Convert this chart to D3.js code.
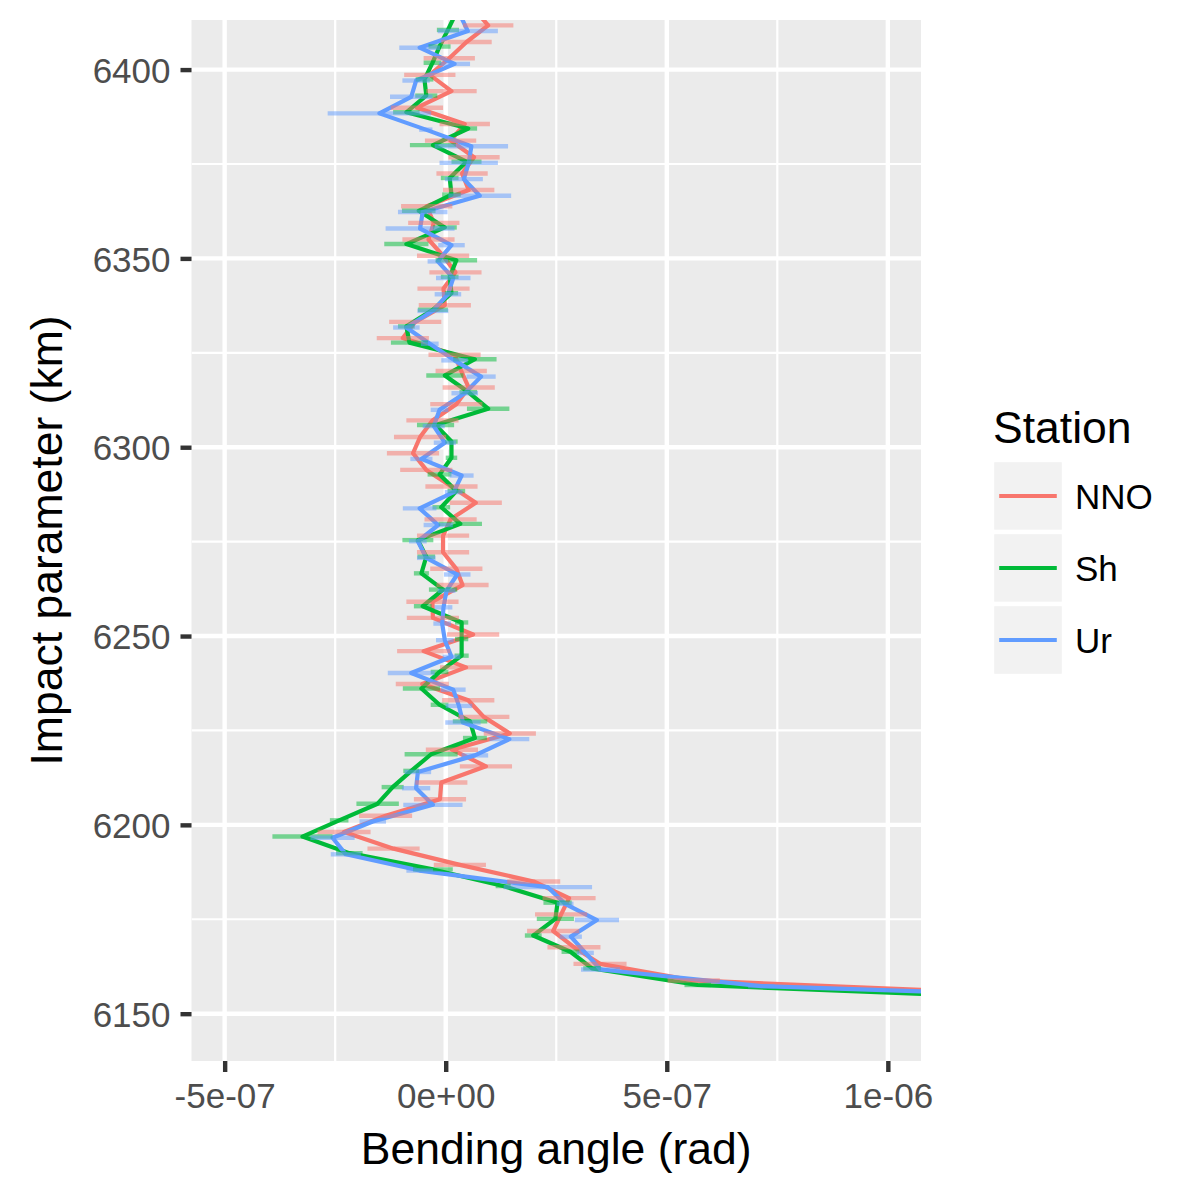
<!DOCTYPE html>
<html>
<head>
<meta charset="utf-8">
<script src="https://cdn.jsdelivr.net/npm/d3@7"></script>
<style>
  body { margin: 0; background: #fff; }
  text { font-family: "Liberation Sans", Arial, Helvetica, sans-serif; }
</style>
</head>
<body>
<div id="graph"></div>
<script>
//stations and their colours (ggplot default hues)
let stations = ["NNO","Sh","Ur"];
let colorRange = ["#F8766D","#00BA38","#619CFF"];

//bending angles are stored in units of 1e-7 rad
let angleUnit = 1e-7;

//NNO
let nnoImpact = [
  6416.1, 6411.7, 6407.3, 6403.0, 6398.6, 6394.3, 6389.9, 6385.6, 6381.2, 6376.8,
  6372.5, 6368.1, 6363.8, 6359.4, 6355.0, 6350.7, 6346.3, 6342.0, 6337.6, 6333.2,
  6328.9, 6324.5, 6320.2, 6315.8, 6311.4, 6307.1, 6302.7, 6298.4, 6294.0, 6289.6,
  6285.3, 6280.9, 6276.6, 6272.2, 6267.8, 6263.5, 6259.1, 6254.8, 6250.4, 6246.0,
  6241.7, 6237.3, 6233.0, 6228.6, 6224.2, 6219.9, 6215.5, 6211.2, 6206.8, 6202.4,
  6198.1, 6193.7, 6189.4, 6185.0, 6180.6, 6176.3, 6171.9, 6167.6, 6163.2, 6158.8,
  6154.5];
let nnoAngle = [
  0.64, 0.96, 0.47, 0.08, -0.36, 0.13, -0.65, 0.43, 0.11, 0.64,
  0.37, 0.52, -0.43, -0.27, -0.39, -0.06, 0.22, -0.05, -0.02, -0.69,
  -0.97, 0.20, 0.35, 0.52, 0.24, -0.30, -0.58, -0.74, -0.44, 0.13,
  0.68, 0.11, -0.06, -0.06, 0.24, 0.38, -0.30, -0.29, 0.62, -0.50,
  0.46, -0.53, 0.51, 0.86, 1.45, 0.14, 0.91, -0.10, -0.13, -1.36,
  -2.30, -1.18, 0.32, 1.99, 2.79, 2.61, 2.43, 2.90, 3.49, 5.61,
  14.6];
let nnoErr = [
  0.58, 0.57, 0.57, 0.58, 0.58, 0.57, 0.59, 0.57, 0.58, 0.58,
  0.58, 0.58, 0.58, 0.58, 0.59, 0.59, 0.59, 0.59, 0.59, 0.59,
  0.59, 0.59, 0.58, 0.59, 0.59, 0.59, 0.59, 0.59, 0.59, 0.59,
  0.59, 0.59, 0.59, 0.59, 0.59, 0.59, 0.59, 0.59, 0.59, 0.60,
  0.59, 0.60, 0.59, 0.58, 0.59, 0.59, 0.59, 0.59, 0.59, 0.60,
  0.60, 0.59, 0.59, 0.60, 0.60, 0.59, 0.59, 0.60, 0.60, 0.59,
  0.60];

//Sh
let shImpact = [
  6414.9, 6410.5, 6406.1, 6401.8, 6397.4, 6393.1, 6388.7, 6384.4, 6380.0, 6375.6,
  6371.3, 6366.9, 6362.6, 6358.2, 6353.8, 6349.5, 6345.1, 6340.8, 6336.4, 6332.0,
  6327.7, 6323.3, 6319.0, 6314.6, 6310.2, 6305.9, 6301.5, 6297.2, 6292.8, 6288.4,
  6284.1, 6279.7, 6275.4, 6271.0, 6266.6, 6262.3, 6257.9, 6253.6, 6249.2, 6244.8,
  6240.5, 6236.1, 6231.8, 6227.4, 6223.0, 6218.7, 6214.3, 6210.0, 6205.6, 6201.2,
  6196.9, 6192.5, 6188.2, 6183.8, 6179.4, 6175.1, 6170.7, 6166.4, 6162.0, 6157.6,
  6153.3];
let shAngle = [
  0.23, 0.05, -0.14, -0.30, -0.48, -0.44, -0.89, 0.51, -0.29, 0.47,
  0.09, 0.13, -0.61, -0.02, -0.89, 0.24, 0.09, 0.13, -0.29, -0.89,
  -0.82, 0.66, -0.02, 0.51, 0.96, -0.23, 0.13, 0.13, -0.14, 0.24,
  -0.10, 0.33, -0.63, -0.44, -0.55, -0.06, -0.52, 0.36, 0.36, 0.36,
  -0.14, -0.55, -0.14, 0.55, 0.66, -0.33, -0.78, -1.20, -1.54, -2.41,
  -3.24, -2.18, -0.29, 1.30, 2.53, 2.48, 1.98, 2.82, 3.31, 5.70,
  14.8];
let shErr = [
  0.25, 0.25, 0.25, 0.20, 0.20, 0.25, 0.30, 0.20, 0.52, 0.34,
  0.20, 0.21, 0.38, 0.27, 0.50, 0.47, 0.20, 0.15, 0.34, 0.19,
  0.42, 0.49, 0.42, 0.20, 0.48, 0.42, 0.14, 0.13, 0.27, 0.20,
  0.20, 0.49, 0.35, 0.20, 0.17, 0.32, 0.20, 0.15, 0.15, 0.16,
  0.20, 0.42, 0.20, 0.39, 0.27, 0.60, 0.18, 0.25, 0.48, 0.21,
  0.68, 0.30, 0.45, 0.17, 0.32, 0.42, 0.19, 0.20, 0.20, 0.30,
  0.30];

//Ur
let urImpact = [
  6414.6, 6410.2, 6405.8, 6401.5, 6397.1, 6392.8, 6388.4, 6384.1, 6379.7, 6375.3,
  6371.0, 6366.6, 6362.3, 6357.9, 6353.5, 6349.2, 6344.8, 6340.5, 6336.1, 6331.7,
  6327.4, 6323.0, 6318.7, 6314.3, 6309.9, 6305.6, 6301.2, 6296.9, 6292.5, 6288.1,
  6283.8, 6279.4, 6275.1, 6270.7, 6266.3, 6262.0, 6257.6, 6253.3, 6248.9, 6244.5,
  6240.2, 6235.8, 6231.5, 6227.1, 6222.7, 6218.4, 6214.0, 6209.7, 6205.3, 6200.9,
  6196.6, 6192.2, 6187.9, 6183.5, 6179.1, 6174.8, 6170.4, 6166.1, 6161.7, 6157.3,
  6153.0];
let urAngle = [
  0.32, 0.50, -0.59, 0.20, -0.67, -0.78, -1.50, -0.45, 0.58, 0.52,
  0.41, 0.77, -0.52, -0.58, 0.13, -0.18, 0.17, 0.05, -0.29, -0.89,
  -0.36, 0.20, 0.80, 0.43, -0.14, -0.27, -0.02, -0.55, 0.36, 0.18,
  -0.59, -0.17, -0.63, -0.44, 0.26, 0.02, -0.05, -0.08, -0.02, 0.13,
  -0.78, 0.17, 0.30, 0.39, 1.44, 0.66, -0.63, -0.67, -0.29, -1.65,
  -2.56, -2.26, -0.59, 2.31, 2.70, 3.42, 2.83, 3.16, 3.50, 7.14,
  18.3];
let urErr = [
  0.40, 0.68, 0.46, 0.35, 0.31, 0.48, 1.17, 0.15, 0.83, 0.66,
  0.43, 0.71, 0.56, 0.78, 0.30, 0.23, 0.39, 0.30, 0.35, 0.30,
  0.20, 0.30, 0.33, 0.30, 0.20, 0.25, 0.25, 0.25, 0.27, 0.20,
  0.38, 0.33, 0.20, 0.21, 0.30, 0.20, 0.20, 0.20, 0.20, 0.20,
  0.53, 0.28, 0.30, 0.40, 0.45, 0.30, 0.30, 0.32, 0.67, 0.30,
  0.50, 0.34, 0.30, 1.00, 0.19, 0.50, 0.25, 0.19, 0.44, 0.30,
  0.30];

//axis ticks
let xTicks = [-5e-7, 0, 5e-7, 1e-6];
let xTickLabels = ["-5e-07","0e+00","5e-07","1e-06"];
let xMinor = [-2.5e-7, 2.5e-7, 7.5e-7];
let yTicks = [6150, 6200, 6250, 6300, 6350, 6400];
let yMinor = [6175, 6225, 6275, 6325, 6375];
let xLimits = [-5e-7, 1e-6];
let yLimits = [6150, 6400.6];

//build one table per station
function makeRows(impact, angle, err){
  return impact.map(function(b, i){
    return {impact: b, angle: angle[i]*angleUnit, err: err[i]*angleUnit};
  });
}
let series = [
  {name: "NNO", rows: makeRows(nnoImpact, nnoAngle, nnoErr)},
  {name: "Sh", rows: makeRows(shImpact, shAngle, shErr)},
  {name: "Ur", rows: makeRows(urImpact, urAngle, urErr)}
];

let color = d3.scaleOrdinal().domain(stations).range(colorRange);

//panel box
let w = 1200, h = 1200;
let pLeft = 191.5, pRight = 921, pTop = 20, pBottom = 1061;

//ggplot style 5% expansion
let xPad = (xLimits[1]-xLimits[0])*0.05;
let yPad = (yLimits[1]-yLimits[0])*0.05;
let x = d3.scaleLinear().domain([xLimits[0]-xPad, xLimits[1]+xPad]).range([pLeft, pRight]);
let y = d3.scaleLinear().domain([yLimits[0]-yPad, yLimits[1]+yPad]).range([pBottom, pTop]);

let svg = d3.select("#graph").append("svg")
              .attr("width", w)
              .attr("height", h);

svg.append("rect")
     .attr("width", w).attr("height", h)
     .attr("fill", "white");

svg.append("defs").append("clipPath").attr("id", "panelClip")
     .append("rect")
       .attr("x", pLeft).attr("y", pTop)
       .attr("width", pRight-pLeft).attr("height", pBottom-pTop);

//panel background
svg.append("rect")
     .attr("x", pLeft).attr("y", pTop)
     .attr("width", pRight-pLeft).attr("height", pBottom-pTop)
     .attr("fill", "#EBEBEB");

let grid = svg.append("g").attr("clip-path", "url(#panelClip)");

grid.selectAll("xminor").data(xMinor).enter()
      .append("line")
        .attr("x1", d => x(d)).attr("x2", d => x(d))
        .attr("y1", pTop).attr("y2", pBottom)
        .attr("stroke", "white").attr("stroke-width", 2.2);

grid.selectAll("yminor").data(yMinor).enter()
      .append("line")
        .attr("y1", d => y(d)).attr("y2", d => y(d))
        .attr("x1", pLeft).attr("x2", pRight)
        .attr("stroke", "white").attr("stroke-width", 2.2);

grid.selectAll("xmajor").data(xTicks).enter()
      .append("line")
        .attr("x1", d => x(d)).attr("x2", d => x(d))
        .attr("y1", pTop).attr("y2", pBottom)
        .attr("stroke", "white").attr("stroke-width", 4.4);

grid.selectAll("ymajor").data(yTicks).enter()
      .append("line")
        .attr("y1", d => y(d)).attr("y2", d => y(d))
        .attr("x1", pLeft).attr("x2", pRight)
        .attr("stroke", "white").attr("stroke-width", 4.4);

//data layers, clipped to the panel
let plot = svg.append("g").attr("clip-path", "url(#panelClip)");

let line = d3.line()
               .x(d => x(d.angle))
               .y(d => y(d.impact));

plot.selectAll("paths").data(series).enter()
      .append("path")
        .attr("d", d => line(d.rows))
        .attr("fill", "none")
        .attr("stroke", d => color(d.name))
        .attr("stroke-width", 4.2)
        .attr("stroke-linejoin", "round");

//horizontal error bars on top of the lines
series.forEach(function(s){
  plot.append("g").selectAll("line").data(s.rows).enter()
        .append("line")
          .attr("x1", d => x(d.angle - d.err))
          .attr("x2", d => x(d.angle + d.err))
          .attr("y1", d => y(d.impact))
          .attr("y2", d => y(d.impact))
          .attr("stroke", color(s.name))
          .attr("stroke-width", 4.4)
          .attr("opacity", 0.5);
});

//axes
let yAxis = svg.append("g")
                 .attr("transform", "translate(" + pLeft + ",0)")
                 .call(d3.axisLeft(y).tickValues(yTicks).tickSize(11).tickPadding(10).tickFormat(d3.format("d")));

let xAxis = svg.append("g")
                 .attr("transform", "translate(0," + pBottom + ")")
                 .call(d3.axisBottom(x).tickValues(xTicks).tickSize(11).tickPadding(11)
                         .tickFormat((d, i) => xTickLabels[i]));

[xAxis, yAxis].forEach(function(a){
  a.select(".domain").remove();
  a.selectAll(".tick line").attr("stroke", "#333333").attr("stroke-width", 4.4);
  a.selectAll(".tick text")
     .attr("fill", "#4D4D4D")
     .attr("font-size", 35)
     .style("font-family", "'Liberation Sans', Arial, sans-serif");
});
yAxis.selectAll(".tick text").attr("dy", "0.36em");

//axis titles
svg.append("text")
     .attr("x", (pLeft+pRight)/2)
     .attr("y", 1164)
     .attr("text-anchor", "middle")
     .attr("font-size", 44.5)
     .attr("fill", "black")
     .text("Bending angle (rad)");

svg.append("text")
     .attr("transform", "translate(62," + (pTop+pBottom)/2 + ") rotate(-90)")
     .attr("text-anchor", "middle")
     .attr("font-size", 44.5)
     .attr("fill", "black")
     .text("Impact parameter (km)");

//legend
let legend = svg.append("g").attr("transform", "translate(992,0)");

legend.append("text")
        .attr("x", 1)
        .attr("y", 443)
        .attr("font-size", 44.5)
        .attr("fill", "black")
        .text("Station");

let keys = legend.selectAll("keys").data(stations).enter()
                   .append("g")
                     .attr("transform", (d, i) => "translate(0," + (460 + i*72) + ")");

keys.append("rect")
      .attr("width", 72).attr("height", 72)
      .attr("fill", "#F2F2F2")
      .attr("stroke", "white")
      .attr("stroke-width", 4.4);

keys.append("line")
      .attr("x1", 7.2).attr("x2", 64.8)
      .attr("y1", 36).attr("y2", 36)
      .attr("stroke", d => color(d))
      .attr("stroke-width", 4.2);

keys.append("text")
      .attr("x", 83)
      .attr("y", 36)
      .attr("dy", "0.36em")
      .attr("font-size", 35)
      .attr("fill", "black")
      .text(d => d);
</script>
</body>
</html>
